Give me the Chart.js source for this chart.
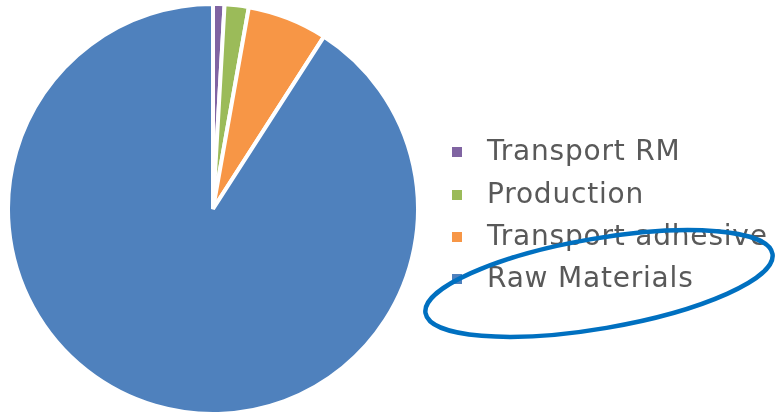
<!DOCTYPE html>
<html><head><meta charset="utf-8">
<script src="https://cdn.jsdelivr.net/npm/chart.js@4"></script>
<style>
html,body{margin:0;padding:0;background:#fff;}
#wrap{position:relative;width:775px;height:416px;overflow:hidden;background:#fff;}
#c{position:absolute;left:0;top:0;}
.item{position:absolute;left:452px;}
.box{position:absolute;width:10px;height:10px;left:0;}
.lbl{position:absolute;left:35px;top:0;white-space:nowrap;font-family:"DejaVu Sans";font-size:28px;letter-spacing:0.8px;color:#595959;line-height:normal;}
svg{position:absolute;left:0;top:0;pointer-events:none;}
</style></head>
<body>
<div id="wrap">
<canvas id="c" width="775" height="416"></canvas>
<div id="legend"></div>
<svg width="775" height="416"><ellipse cx="599" cy="283.5" rx="176" ry="45" transform="rotate(-9.7 599 283.5)" fill="none" stroke="#0070C0" stroke-width="4.5"/></svg>
</div>
<script>
const categories = ['Transport RM', 'Production', 'Transport adhesive', 'Raw Materials'];
const values = [0.9, 1.9, 6.3, 90.9];
const colors = ['#8064A2', '#9BBB59', '#F79646', '#4F81BD'];

const chart = new Chart(document.getElementById('c'), {
  type: 'pie',
  data: {
    labels: categories,
    datasets: [{
      data: values,
      backgroundColor: colors,
      borderColor: '#ffffff',
      borderWidth: 4,
      radius: 205
    }]
  },
  options: {
    responsive: false,
    animation: false,
    layout: { padding: { left: 0, right: 349, top: 2, bottom: 0 } },
    plugins: { legend: { display: false }, tooltip: { enabled: false } }
  }
});

// HTML legend built from the chart's data
const legend = document.getElementById('legend');
const baselines = [160, 203, 245, 287];
chart.data.labels.forEach((lab, i) => {
  const it = document.createElement('div');
  it.className = 'item';
  it.style.top = (baselines[i] - 26) + 'px';
  const b = document.createElement('div');
  b.className = 'box';
  b.style.background = chart.data.datasets[0].backgroundColor[i];
  b.style.top = '13px';
  const t = document.createElement('div');
  t.className = 'lbl';
  t.textContent = lab;
  it.appendChild(b); it.appendChild(t);
  legend.appendChild(it);
});
</script>
</body></html>
